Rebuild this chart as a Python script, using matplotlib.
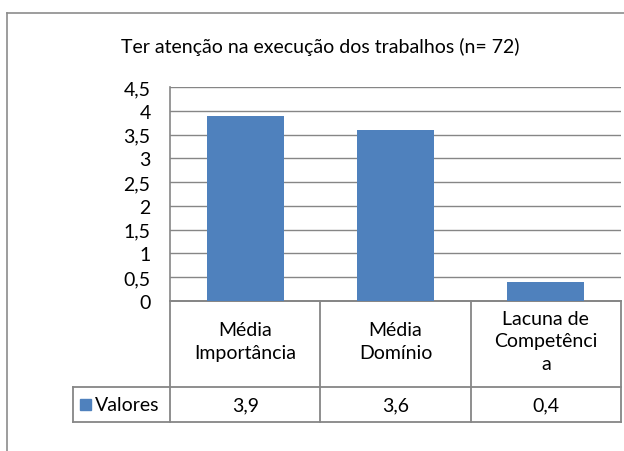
import matplotlib as mpl
mpl.use('Agg')
import matplotlib.pyplot as plt
from matplotlib.patches import Rectangle
from matplotlib.lines import Line2D

#
#--- chart data
#
title       = 'Ter atenção na execução dos trabalhos (n= 72)'
categories  = ['Média\nImportância', 'Média\nDomínio', 'Lacuna de\nCompetênci\na']
values      = [3.9, 3.6, 0.4]
value_text  = ['3,9', '3,6', '0,4']
series_name = 'Valores'
yticks      = [0, 0.5, 1, 1.5, 2, 2.5, 3, 3.5, 4, 4.5]
ytick_text  = ['0', '0,5', '1', '1,5', '2', '2,5', '3', '3,5', '4', '4,5']

#----------------------------------------------------------------------------------------------
#-- plot_chart: draw bar chart with excel style data table                                   --
#----------------------------------------------------------------------------------------------

def plot_chart(outname):
    """
    draw the bar chart
    input:  outname --- output png file name
    output: outname
    """
    W, H    = 624, 452
    bcolor  = '#4F81BD'
    gcolor  = '#868686'
    fsize   = 14
    mpl.rcParams['font.family'] = ['Lato', 'DejaVu Sans']

    fig = plt.figure(figsize=(W / 100.0, H / 100.0), dpi=100)
#
#--- outer chart frame (only top / left edges are visible)
#
    fig.add_artist(Line2D([7 / W, 1.0], [1 - 14 / H, 1 - 14 / H], color='#8c8c8c', lw=1.2))
    fig.add_artist(Line2D([7 / W, 7 / W], [0.0, 1 - 14 / H], color='#8c8c8c', lw=1.2))

    fig.text(320 / W, 1 - 47 / H, title, ha='center', va='center', fontsize=fsize)
#
#--- plotting area
#
    left, right, top, bottom = 170, 621, 88, 302
    ax = fig.add_axes([left / W, 1 - bottom / H, (right - left) / W, (bottom - top) / H])

    xpos = list(range(len(values)))
    ax.bar(xpos, values, width=0.51, color=bcolor, zorder=3)

    ax.set_xlim(-0.5, len(values) - 0.5)
    ax.set_ylim(0, 4.5)
    ax.set_yticks(yticks)
    ax.set_yticklabels(ytick_text, fontsize=fsize)
    ax.set_xticks([])
    ax.tick_params(axis='y', length=0, pad=14)
    ax.yaxis.grid(True, color=gcolor, lw=1.0, zorder=0)
    ax.set_axisbelow(True)

    for s in ['top', 'right']:
        ax.spines[s].set_visible(False)
    for s in ['left', 'bottom']:
        ax.spines[s].set_color(gcolor)
        ax.spines[s].set_linewidth(1.2)
#
#--- data table under the plot (axes fraction coordinates)
#
    ah    = float(bottom - top)
    aw    = float(right - left)
    row1  = (bottom - 388) / ah
    row2  = (bottom - 423) / ah
    lleft = (73 - left) / aw
    ncat  = len(categories)

    def tline(x, y):
        ax.add_line(Line2D(x, y, transform=ax.transAxes, color=gcolor, lw=1.3, clip_on=False))

    tline([0, 1], [0, 0])
    tline([lleft, 1], [row1, row1])
    tline([lleft, 1], [row2, row2])
    tline([lleft, lleft], [row1, row2])
    for i in range(ncat + 1):
        xc = i / float(ncat)
        tline([xc, xc], [0, row2])

    for i in range(ncat):
        xc = (i + 0.5) / ncat
        ax.text(xc, row1 / 2.0 + 3 / ah, categories[i], transform=ax.transAxes, ha='center',
                va='center', fontsize=fsize, linespacing=1.4, multialignment='center')
        ax.text(xc, (row1 + row2) / 2.0, value_text[i], transform=ax.transAxes,
                ha='center', va='center', fontsize=fsize)
#
#--- legend key inside the table
#
    ymid = (row1 + row2) / 2.0
    ksz  = 11
    ax.add_patch(Rectangle(((80 - left) / aw, ymid - ksz / 2.0 / ah), ksz / aw, ksz / ah,
                           transform=ax.transAxes, color=bcolor, clip_on=False))
    ax.text((95 - left) / aw, ymid, series_name, transform=ax.transAxes, ha='left',
            va='center', fontsize=fsize)

    plt.savefig(outname, format='png', dpi=100)
    plt.close('all')

#---------------------------------------------------------------------------------------------

if __name__ == '__main__':

    plot_chart('out.png')
